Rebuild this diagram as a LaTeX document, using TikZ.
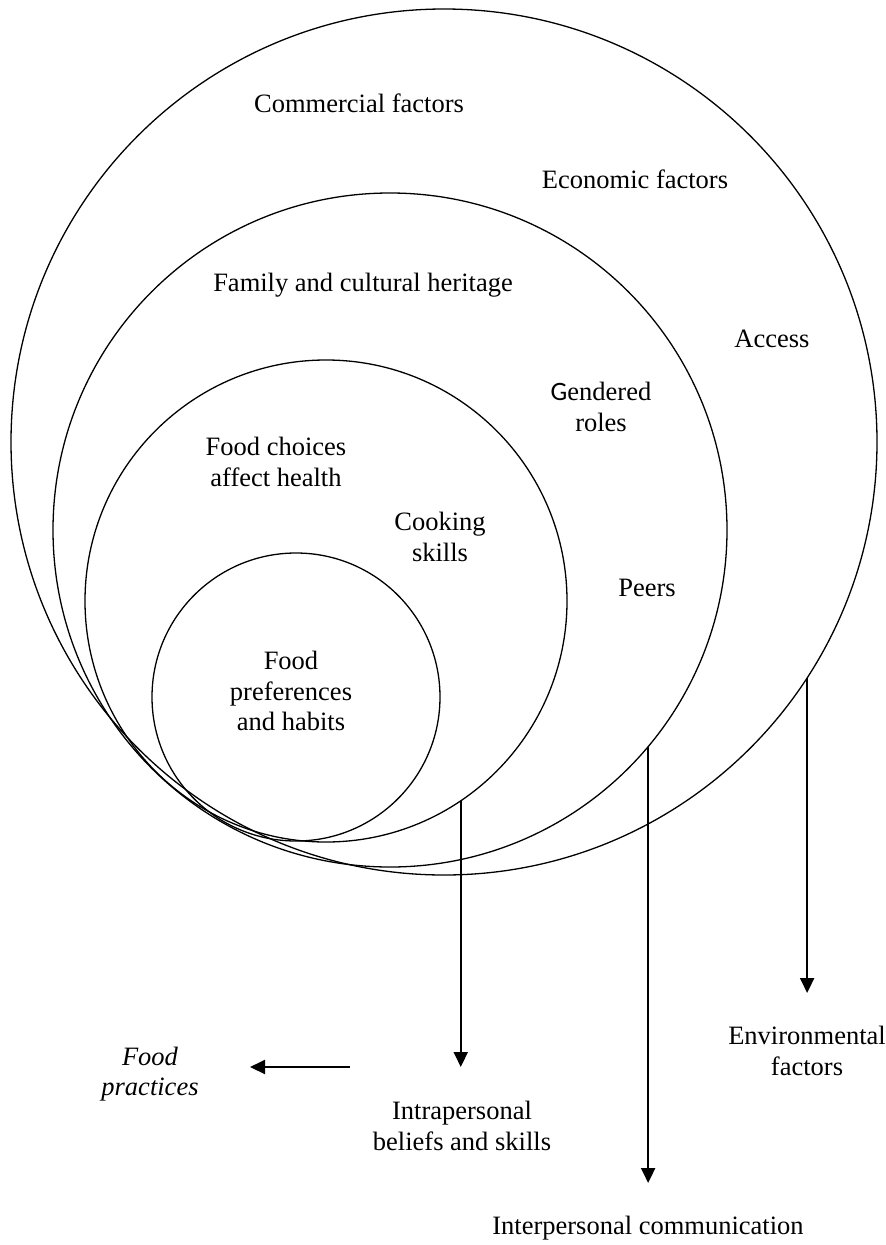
\documentclass[tikz,border=0pt]{standalone}
\usepackage{fontspec}
\setmainfont{Liberation Serif}
\newfontfamily\gfont{Carlito}
\usetikzlibrary{arrows.meta}
\begin{document}
\begin{tikzpicture}[x=1pt,y=-1pt,
  ring/.style={draw, circle, line width=1.3pt, inner sep=0pt, outer sep=0pt},
  lbl/.style={align=center, font=\fontsize{26.5}{30.5}\selectfont, inner sep=0pt},
  arr/.style={line width=2pt, -{Triangle[length=15pt,width=14pt]}}]
\useasboundingbox (0,0) rectangle (886,1245);
% circles
\node[ring, minimum size=866pt] (c1) at (444,442) {};
\node[ring, minimum size=674pt] (c2) at (390,530) {};
\node[ring, minimum size=482pt] (c3) at (326,601) {};
\node[ring, minimum size=288pt] (c4) at (296,697) {};
% labels inside
\node[lbl] (comm) at (359,103) {Commercial factors};
\node[lbl] (econ) at (635,179) {Economic factors};
\node[lbl] (fam) at (363,285) {Family and cultural heritage};
\node[lbl] (acc) at (772,339) {Access};
\node[lbl] (gend) at (601,407) {{\gfont G}endered\\roles};
\node[lbl] (choice) at (276,462) {Food choices\\affect health};
\node[lbl] (cook) at (440,537) {Cooking\\skills};
\node[lbl] (peers) at (647,588) {Peers};
\node[lbl] (pref) at (291,691) {Food\\preferences\\and habits};
% labels outside
\node[lbl] (env) at (807,1051) {Environmental\\factors};
\node[lbl] (intra) at (462,1126) {Intrapersonal\\beliefs and skills};
\node[lbl] (inter) at (648,1228) {Interpersonal communication};
\node[lbl, font=\fontsize{26.5}{30.5}\selectfont\itshape] (fp) at (150,1074) {Food\\practices};
% arrows
\coordinate (t1) at (461,1067);
\coordinate (t2) at (648,1183);
\coordinate (t3) at (807,993);
\coordinate (hs) at (350,1067);
\coordinate (he) at (250,1067);
\draw[arr] (c3.-56) -- (c3.-56 |- t1);
\draw[arr] (c2.-40) -- (c2.-40 |- t2);
\draw[arr] (c1.-33.3) -- (c1.-33.3 |- t3);
\draw[arr] (hs) -- (he);
\end{tikzpicture}
\end{document}
